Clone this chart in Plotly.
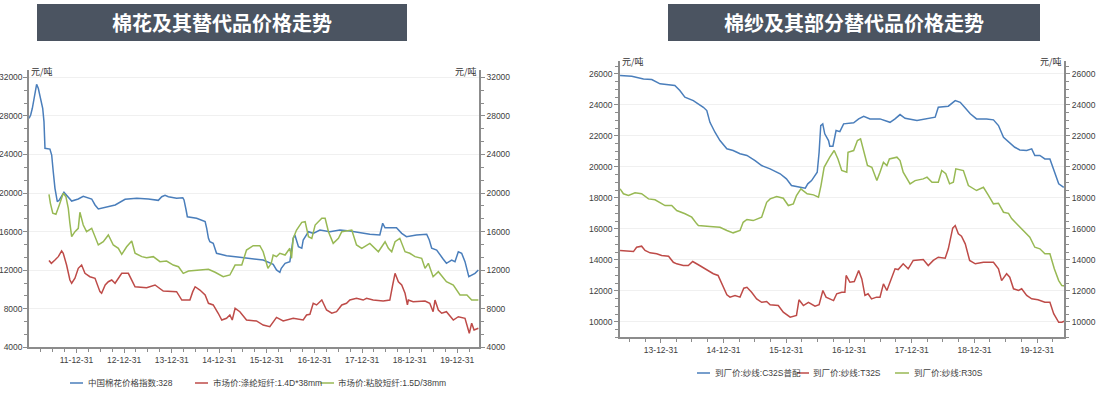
import pandas as pd
import plotly.graph_objects as go

# ---------------- data: left chart (decimal year, price) ----------------
cotton_t = [2011.000, 2011.035, 2011.07, 2011.12, 2011.16, 2011.195, 2011.23, 2011.267, 2011.288, 2011.315,
            2011.336, 2011.44, 2011.477, 2011.51, 2011.546, 2011.595, 2011.637, 2011.735, 2011.826, 2011.897,
            2012.036, 2012.14, 2012.317, 2012.387, 2012.456, 2012.6, 2012.81, 2013.017, 2013.263, 2013.506,
            2013.716, 2013.788, 2013.857, 2013.927, 2014.10, 2014.23, 2014.256, 2014.30, 2014.326, 2014.52,
            2014.70, 2014.733, 2014.77, 2014.80, 2014.87, 2014.94, 2015.15, 2015.43, 2015.92, 2016.13,
            2016.20, 2016.27, 2016.30, 2016.38, 2016.48, 2016.55, 2016.585, 2016.66, 2016.73, 2016.76,
            2016.87, 2016.97, 2017.11, 2017.32, 2017.53, 2017.74, 2018.16, 2018.37, 2018.43, 2018.48,
            2018.72, 2018.83, 2018.93, 2019.14, 2019.355, 2019.41, 2019.46, 2019.565, 2019.63, 2019.70,
            2019.77, 2019.88, 2019.95, 2020.02, 2020.09, 2020.16, 2020.24, 2020.30, 2020.37, 2020.44]
cotton_v = [27750, 28090, 28790, 30160, 31270, 30860, 30160, 29470, 28790, 27400,
            24640, 24560, 23940, 22210, 20490, 19100, 19280, 20070, 19510, 19170,
            19380, 19660, 19380, 18760, 18340, 18480, 18760, 19350, 19450, 19380,
            19240, 19620, 19760, 19620, 19450, 19510, 19280, 18240, 17540, 17380,
            17030, 16340, 15300, 14950, 14780, 13750, 13500, 13330, 13050, 12610,
            12020, 11780, 12190, 12710, 12880, 15300, 15650, 14430, 14270, 15130,
            15990, 15820, 16160, 15990, 16160, 16060, 15720, 15650, 16860, 16400,
            16400, 15820, 15470, 15650, 15720, 15130, 14270, 14090, 13570, 13160,
            12710, 13050, 12880, 13910, 13750, 12880, 11320, 11500, 11670, 12020]

polyester_t = [2011.42, 2011.47, 2011.546, 2011.616, 2011.686, 2011.72, 2011.79, 2011.86, 2011.897, 2011.966,
               2012.036, 2012.106, 2012.176, 2012.28, 2012.387, 2012.49, 2012.525, 2012.60, 2012.666, 2012.737,
               2012.807, 2012.947, 2013.086, 2013.157, 2013.227, 2013.47, 2013.647, 2013.82, 2014.10, 2014.21,
               2014.38, 2014.44, 2014.49, 2014.59, 2014.70, 2014.77, 2014.87, 2014.975, 2015.05, 2015.15,
               2015.22, 2015.27, 2015.33, 2015.43, 2015.57, 2015.78, 2015.92, 2016.06, 2016.20, 2016.34,
               2016.55, 2016.76, 2016.83, 2016.90, 2016.97, 2017.04, 2017.15, 2017.25, 2017.36, 2017.46,
               2017.57, 2017.67, 2017.74, 2017.88, 2018.02, 2018.09, 2018.23, 2018.44, 2018.58, 2018.64,
               2018.69, 2018.76, 2018.83, 2018.90, 2018.95, 2018.97, 2019.07, 2019.32, 2019.42, 2019.49,
               2019.53, 2019.60, 2019.67, 2019.77, 2019.915, 2020.02, 2020.16, 2020.25, 2020.30, 2020.35, 2020.44]
polyester_v = [13000, 12710, 13050, 13400, 13990, 13750, 12530, 10980, 10640, 11160,
               12190, 12530, 11670, 11320, 11160, 9770, 9600, 10460, 10800, 10980,
               10640, 11670, 11670, 10980, 10280, 10180, 10460, 9840, 9770, 8900,
               8900, 9770, 10280, 9940, 9420, 8560, 8390, 7530, 6830, 7010,
               7350, 6830, 8040, 7690, 6830, 6730, 6310, 6140, 7100, 6730,
               7010, 6830, 7350, 7420, 8560, 8390, 8900, 7870, 7530, 7690,
               8390, 8560, 8900, 9080, 8900, 9080, 8900, 8800, 8900, 10460,
               11670, 10800, 10460, 9600, 8390, 8900, 8730, 8800, 8560, 7690,
               8900, 7870, 7530, 7690, 6830, 7170, 7010, 5450, 6490, 5790, 5970]

viscose_t = [2011.42, 2011.45, 2011.50, 2011.566, 2011.637, 2011.72, 2011.776, 2011.826, 2011.86, 2011.897,
             2011.966, 2012.036, 2012.07, 2012.14, 2012.21, 2012.317, 2012.456, 2012.56, 2012.666, 2012.77,
             2012.876, 2012.947, 2013.05, 2013.157, 2013.227, 2013.37, 2013.47, 2013.61, 2013.75, 2013.89,
             2014.03, 2014.14, 2014.24, 2014.35, 2014.59, 2014.77, 2014.91, 2015.08, 2015.22, 2015.33,
             2015.47, 2015.57, 2015.71, 2015.85, 2015.92, 2016.02, 2016.09, 2016.13, 2016.20, 2016.27,
             2016.38, 2016.48, 2016.515, 2016.55, 2016.62, 2016.73, 2016.80, 2016.87, 2016.94, 2017.01,
             2017.15, 2017.22, 2017.29, 2017.39, 2017.50, 2017.57, 2017.78, 2017.88, 2017.99, 2018.16,
             2018.34, 2018.48, 2018.55, 2018.62, 2018.69, 2018.79, 2018.90, 2019.00, 2019.11, 2019.25,
             2019.32, 2019.39, 2019.49, 2019.60, 2019.77, 2019.915, 2020.055, 2020.20, 2020.30, 2020.44]
viscose_v = [19870, 18930, 17900, 17790, 18760, 19970, 19620, 18420, 16860, 15470,
             15990, 16340, 18000, 16680, 15990, 16340, 14610, 14950, 15650, 14610,
             14270, 13640, 14430, 15020, 13750, 13400, 13290, 13400, 12880, 12950,
             12530, 12360, 11670, 11910, 12020, 12090, 11780, 11320, 11500, 12530,
             12530, 14090, 14540, 14540, 13910, 12190, 12710, 13570, 13400, 13750,
             13570, 14270, 13230, 15300, 16160, 16960, 17030, 15470, 15300, 16680,
             17380, 17380, 15990, 14780, 15300, 15990, 16160, 14610, 14270, 14780,
             13910, 14950, 14270, 13910, 14950, 15300, 13910, 13750, 13400, 13230,
             12190, 12710, 11320, 11840, 10800, 10460, 9420, 9420, 8900, 8900]

# ---------------- data: right chart (decimal year, price) ----------------
c32s_t = [2013.346, 2013.533, 2013.72, 2013.852, 2013.984, 2014.09, 2014.22, 2014.30, 2014.38, 2014.515,
          2014.595, 2014.675, 2014.73, 2014.78, 2014.86, 2014.94, 2015.05, 2015.15, 2015.26, 2015.37,
          2015.50, 2015.605, 2015.74, 2015.90, 2016.0, 2016.08, 2016.22, 2016.30, 2016.34, 2016.40,
          2016.49, 2016.52, 2016.546, 2016.578, 2016.61, 2016.67, 2016.69, 2016.74, 2016.79, 2016.85,
          2016.91, 2017.07, 2017.15, 2017.23, 2017.33, 2017.49, 2017.65, 2017.73, 2017.81, 2017.89,
          2018.08, 2018.29, 2018.37, 2018.42, 2018.58, 2018.69, 2018.77, 2018.84, 2018.93, 2019.03,
          2019.19, 2019.30, 2019.38, 2019.46, 2019.56, 2019.64, 2019.72, 2019.83, 2019.91, 2019.96,
          2020.04, 2020.12, 2020.20, 2020.26, 2020.34, 2020.42]
c32s_v = [25890, 25840, 25670, 25630, 25350, 25310, 25240, 24920, 24490, 24270,
          24060, 23840, 23630, 22870, 22230, 21690, 21160, 21050, 20840, 20730,
          20400, 20080, 19870, 19550, 19220, 18790, 18680, 18620, 18900, 19110,
          19650, 20940, 22660, 22770, 22130, 21690, 21330, 21330, 22340, 22270,
          22770, 22840, 23090, 23260, 23090, 23090, 22870, 23090, 23370, 23130,
          22980, 23130, 23200, 23840, 23910, 24270, 24160, 23840, 23420, 23090,
          23090, 23030, 22660, 21910, 21580, 21260, 21090, 21050, 21160, 20730,
          20730, 20510, 20510, 19760, 18900, 18680]

t32s_t = [2013.346, 2013.51, 2013.56, 2013.61, 2013.69, 2013.745, 2013.825, 2013.93, 2014.01, 2014.12,
          2014.196, 2014.25, 2014.355, 2014.435, 2014.505, 2014.595, 2014.73, 2014.834, 2014.91, 2014.99,
          2015.05, 2015.10, 2015.18, 2015.26, 2015.32, 2015.37, 2015.445, 2015.525, 2015.605, 2015.685,
          2015.74, 2015.87, 2015.95, 2016.06, 2016.16, 2016.20, 2016.27, 2016.35, 2016.455, 2016.52,
          2016.58, 2016.63, 2016.75, 2016.80, 2016.88, 2016.93, 2016.95, 2017.01, 2017.08, 2017.15,
          2017.20, 2017.25, 2017.30, 2017.355, 2017.435, 2017.49, 2017.545, 2017.60, 2017.65, 2017.73,
          2017.78, 2017.86, 2017.94, 2018.02, 2018.18, 2018.26, 2018.34, 2018.42, 2018.53, 2018.58,
          2018.65, 2018.69, 2018.74, 2018.79, 2018.85, 2018.92, 2019.01, 2019.14, 2019.30, 2019.38,
          2019.43, 2019.51, 2019.56, 2019.62, 2019.70, 2019.75, 2019.83, 2019.91, 2020.01, 2020.12,
          2020.20, 2020.26, 2020.34, 2020.39, 2020.45]
t32s_v = [14600, 14530, 14530, 14810, 14880, 14600, 14450, 14390, 14280, 14230,
          13840, 13740, 13630, 13630, 13890, 13680, 13370, 13100, 12990, 12230,
          11740, 11590, 11700, 11590, 12170, 12230, 11910, 11480, 11260, 11310,
          11100, 11050, 10620, 10300, 10410, 11420, 11050, 11260, 11010, 11100,
          12020, 11590, 11370, 11810, 11910, 11910, 12990, 12550, 12600, 13310,
          12770, 11700, 11810, 11480, 11590, 11590, 12450, 12020, 12550, 13420,
          13370, 13740, 13420, 13960, 14020, 13630, 13960, 14170, 14100, 14710,
          16040, 16210, 15680, 15520, 15030, 13960, 13740, 13840, 13840, 13420,
          12660, 13100, 12880, 12130, 12020, 12130, 11700, 11480, 11420, 11260,
          11260, 10520, 9970, 9970, 10080]

r30s_t = [2013.346, 2013.40, 2013.48, 2013.585, 2013.69, 2013.80, 2013.904, 2013.984, 2014.064, 2014.17,
          2014.25, 2014.383, 2014.49, 2014.57, 2014.595, 2014.78, 2014.94, 2015.05, 2015.15, 2015.26,
          2015.31, 2015.37, 2015.47, 2015.605, 2015.685, 2015.74, 2015.845, 2015.95, 2016.03, 2016.11,
          2016.16, 2016.23, 2016.27, 2016.33, 2016.43, 2016.51, 2016.55, 2016.60, 2016.69, 2016.76,
          2016.82, 2016.88, 2016.96, 2016.98, 2017.07, 2017.13, 2017.18, 2017.23, 2017.29, 2017.36,
          2017.44, 2017.49, 2017.545, 2017.60, 2017.64, 2017.76, 2017.81, 2017.86, 2017.97, 2018.05,
          2018.18, 2018.24, 2018.32, 2018.42, 2018.475, 2018.54, 2018.60, 2018.66, 2018.70, 2018.82,
          2018.90, 2019.03, 2019.14, 2019.22, 2019.30, 2019.38, 2019.46, 2019.54, 2019.59, 2019.67,
          2019.78, 2019.88, 2019.96, 2020.04, 2020.12, 2020.20, 2020.27, 2020.34, 2020.39, 2020.45]
r30s_v = [18580, 18260, 18150, 18320, 18260, 17930, 17870, 17710, 17500, 17500,
          17180, 16970, 16750, 16320, 16210, 16150, 16100, 15890, 15740, 15890,
          16420, 16600, 16530, 16750, 17710, 17930, 18080, 17970, 17500, 17610,
          18150, 18580, 18470, 18260, 18190, 18040, 18790, 19970, 20620, 21050,
          20510, 19760, 19650, 20940, 21050, 21690, 21800, 20940, 20080, 19970,
          19110, 19650, 20290, 20080, 20510, 20620, 20400, 19650, 18900, 19110,
          19220, 19330, 19000, 19000, 19760, 19550, 18900, 19000, 19870, 19760,
          18790, 18470, 18680, 18150, 17610, 17650, 17070, 17000, 16660, 16320,
          15890, 15460, 14810, 14710, 14390, 14390, 13420, 12660, 12340, 12300]

left_names = ["中国棉花价格指数:328", "市场价:涤纶短纤:1.4D*38mm", "市场价:粘胶短纤:1.5D/38mm"]
right_names = ["到厂价:纱线:C32S普配", "到厂价:纱线:T32S", "到厂价:纱线:R30S"]
titles = ["棉花及其替代品价格走势", "棉纱及其部分替代品价格走势"]
unit = "元/吨"

BLUE, RED, GREEN = "#4a7ebb", "#be4b48", "#98b954"
COLORS = [BLUE, RED, GREEN]


def to_dates(dec):
    out = []
    for d in dec:
        y = int(d)
        s = pd.Timestamp(year=y, month=1, day=1)
        e = pd.Timestamp(year=y + 1, month=1, day=1)
        out.append(s + (e - s) * (d - y))
    return out


fig = go.Figure()
for (t, v), name, col in zip([(cotton_t, cotton_v), (polyester_t, polyester_v), (viscose_t, viscose_v)],
                             left_names, COLORS):
    fig.add_trace(go.Scatter(x=to_dates(t), y=v, name=name, mode="lines",
                             line=dict(color=col, width=1.5), xaxis="x", yaxis="y"))
for (t, v), name, col in zip([(c32s_t, c32s_v), (t32s_t, t32s_v), (r30s_t, r30s_v)],
                             right_names, COLORS):
    fig.add_trace(go.Scatter(x=to_dates(t), y=v, name=name, mode="lines",
                             line=dict(color=col, width=1.5), xaxis="x2", yaxis="y3"))

# transparent copies so that the right-hand value axes are drawn
fig.add_trace(go.Scatter(x=to_dates(cotton_t), y=cotton_v, mode="lines", hoverinfo="skip",
                         line=dict(color="rgba(0,0,0,0)", width=0), xaxis="x", yaxis="y2"))
fig.add_trace(go.Scatter(x=to_dates(c32s_t), y=c32s_v, mode="lines", hoverinfo="skip",
                         line=dict(color="rgba(0,0,0,0)", width=0), xaxis="x2", yaxis="y4"))

W, H = 1097, 395
TICKFONT = dict(family="Liberation Sans, sans-serif", size=8.5, color="#404040")
AX = "#8c8c8c"

MINX = dict(dtick="M3", tick0="2011-12-31", ticks="outside", ticklen=3, tickcolor=AX, tickwidth=1.2)
xcommon = dict(type="date", showgrid=False, showline=True, linecolor=AX, linewidth=1.5,
               ticks="outside", ticklen=4, tickcolor=AX, tickwidth=1.2, tickformat="%y-%m-%d",
               dtick="M12", tick0="2011-12-31", tickfont=TICKFONT, zeroline=False, minor=MINX,
               automargin=False)

ycommon = dict(showline=True, linecolor=AX, linewidth=1.5, ticks="outside", ticklen=4,
               tickcolor=AX, tickwidth=1.2, tickfont=TICKFONT, zeroline=False, showgrid=True,
               gridcolor="#f0f0f0", gridwidth=1, tickformat="d", automargin=False)

MINL = dict(dtick=4000 / 3, tick0=4000, ticks="outside", ticklen=3, tickcolor=AX, tickwidth=1.2)
MINR = dict(dtick=500, tick0=10000, ticks="outside", ticklen=3, tickcolor=AX, tickwidth=1.2)

lx0, lx1 = 29 / W, 479 / W
ly0, ly1 = 47.7 / H, (H - 69.6) / H
rx0, rx1 = 620 / W, 1064.3 / W
ry0, ry1 = 57.7 / H, (H - 61.4) / H

fig.update_layout(
    width=W, height=H, margin=dict(l=0, r=0, t=0, b=0),
    paper_bgcolor="white", plot_bgcolor="white", showlegend=False,
    xaxis=dict(xcommon, domain=[lx0, lx1], anchor="y", range=["2011-01-01", "2020-06-15"]),
    yaxis=dict(ycommon, domain=[ly0, ly1], anchor="x", range=[4000, 32800], dtick=4000, tick0=4000,
               minor=MINL, ticklabelstandoff=-1),
    yaxis2=dict(ycommon, domain=[ly0, ly1], anchor="x", overlaying="y", side="right",
                range=[4000, 32800], dtick=4000, tick0=4000, showgrid=False, minor=MINL),
    xaxis2=dict(xcommon, domain=[rx0, rx1], anchor="y3", range=["2013-05-07", "2020-06-06"]),
    yaxis3=dict(ycommon, domain=[ry0, ry1], anchor="x2", range=[9000, 26800], dtick=2000, tick0=10000,
                minor=MINR),
    yaxis4=dict(ycommon, domain=[ry0, ry1], anchor="x2", overlaying="y3", side="right",
                range=[9000, 26800], dtick=2000, tick0=10000, showgrid=False, minor=MINR),
)

# title banners
banners = [(37, 407, titles[0]), (668, 1040, titles[1])]
for x0, x1, txt in banners:
    fig.add_shape(type="rect", xref="paper", yref="paper", x0=x0 / W, x1=x1 / W,
                  y0=(H - 41) / H, y1=(H - 4) / H, fillcolor="#4b5461", line=dict(width=0), layer="below")
    fig.add_annotation(x=(x0 + x1) / 2 / W, y=(H - 22.5) / H, xref="paper", yref="paper",
                       text="<b>" + txt + "</b>", showarrow=False, xanchor="center", yanchor="middle",
                       font=dict(family="Noto Sans CJK SC", size=20, color="white"))

# unit labels
UF = dict(family="Noto Sans CJK SC", size=9, color="#333333")
for xp, yp, anc in [(29, 72, "left"), (479, 72, "right"), (620, 62, "left"), (1064.3, 62, "right")]:
    fig.add_annotation(x=xp / W, y=(H - yp) / H, xref="paper", yref="paper", text=unit,
                       showarrow=False, xanchor=anc, yanchor="middle", font=UF)

# legends (line sample + text), laid out like the original
LEGFONT = dict(family="Liberation Sans, Noto Sans CJK SC, sans-serif", size=8.5, color="#404040")
legend_rows = [
    (383, [(70, 83, 87), (195, 208, 212), (320, 334, 337)], left_names),
    (373, [(697, 710, 714), (797, 809, 812), (895, 909, 913)], right_names),
]
for ly, slots, names in legend_rows:
    for (l0, l1, tx), name, col in zip(slots, names, COLORS):
        fig.add_shape(type="line", xref="paper", yref="paper", x0=l0 / W, x1=l1 / W,
                      y0=(H - ly) / H, y1=(H - ly) / H, line=dict(color=col, width=1.5))
        fig.add_annotation(x=tx / W, y=(H - ly) / H, xref="paper", yref="paper", text=name,
                           showarrow=False, xanchor="left", yanchor="middle", font=LEGFONT,
                           xshift=-1)

fig.write_html("out.html", config={"displayModeBar": False},
               post_script="document.body.style.margin='0px';document.body.style.overflow='hidden';")
